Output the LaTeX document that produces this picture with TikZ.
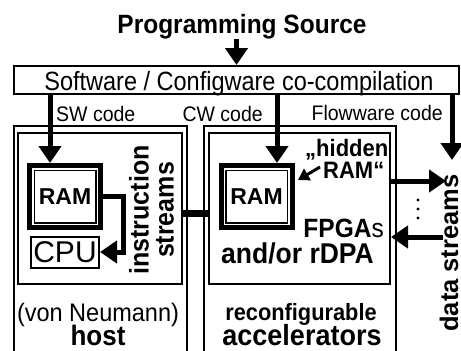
\documentclass[tikz,border=0pt]{standalone}
\usepackage{fontspec}
\setmainfont{Liberation Sans}
\usetikzlibrary{arrows.meta}
\begin{document}
\begin{tikzpicture}[x=1pt,y=-1pt,
  fs/.style={font=\fontsize{#1pt}{#1pt}\selectfont, yscale=1.08, inner sep=0pt},
  fb/.style={font=\fontsize{#1pt}{#1pt}\selectfont\bfseries, yscale=1.08, inner sep=0pt},
  frame/.style={draw, rectangle, line width=2pt, inner sep=0pt},
  rambox/.style={draw, rectangle, line width=5pt, inner sep=0pt,
    minimum width=71pt, minimum height=62pt,
    font=\fontsize{23pt}{23pt}\selectfont\bfseries},
  flow/.style={line width=5pt, -{Triangle[width=22pt,length=17pt]}},
  pointer/.style={line width=3pt, -{Triangle[width=13pt,length=11pt]}},
  wall/.style={line width=2pt}]
\useasboundingbox (0,0) rectangle (461,351);

% source and co-compilation stage
\node[fb=24.5, anchor=base] (src) at (242,33) {Programming Source};
\node[frame, minimum width=445pt, minimum height=28pt] (sw) at (236.5,80) {};
\node[fs=23.5, anchor=base, yscale=1.04] (swtext) at (239,90) {Software / Configware co-compilation};
\draw[flow] (src.south -| sw.north) -- (sw.north);

% code labels
\node[fs=19.5, anchor=base west] (swl) at (56,121) {SW code};
\node[fs=19.5, anchor=base east] (cwl) at (263,121) {CW code};
\node[fs=19.5, anchor=base east] (fwl) at (443,120) {Flowware code};

% host and accelerator enclosures (open at the bottom)
\draw[wall] (14,351) -- (14,126) -- (187,126) -- (187,351);
\draw[wall] (204,351) -- (204,126) -- (396,126) -- (396,351);
\node[frame, minimum width=164pt, minimum height=151pt] (hin) at (100,208.5) {};
\node[frame, minimum width=181pt, minimum height=151pt] (ain) at (299.5,208.5) {};

% memories
\node[rambox] (hram) at (65,196.5) {RAM};
\node[rambox] (aram) at (256.5,196.5) {RAM};
\foreach \r in {hram,aram}
  \draw[line width=1.5pt] ([shift={(7.25,7.25)}]\r.north west) rectangle ([shift={(-7.25,-7.25)}]\r.south east);

% processor
\node[frame, minimum width=68pt, minimum height=31pt,
  font=\fontsize{30pt}{30pt}\selectfont] (cpu) at (65,252) {CPU};

% code distribution
\coordinate (swin) at (50,163);
\coordinate (cwin) at (277,163);
\coordinate (fwin) at (452,160);
\draw[flow] (sw.south -| swin) -- (swin);
\draw[flow] (sw.south -| cwin) -- (cwin);
\draw[flow] (sw.south -| fwin) -- (fwin);

% instruction streams
\draw[flow] (hram.east) -- ++(20,0) |- (cpu.east);
\node[rotate=90, yscale=1.08, align=center, inner sep=0pt,
  font=\fontsize{25pt}{23pt}\selectfont\bfseries] (istr) at (151.5,210) {instruction\\streams};

% host <-> accelerator coupling
\draw[line width=7pt] (hin.east |- 0,213) -- (ain.west |- 0,213);

% accelerator labels
\node[fb=22, anchor=base west] (hid) at (305,156) {„hidden};
\node[fb=22, anchor=base west] (hidram) at (323,178) {RAM“};
\coordinate (hidtail) at (320,167);
\coordinate (hidtip) at (298,180);
\draw[pointer] (hidtail) -- (hidtip);
\node[fb=24.5, anchor=base east] (fpga) at (384,237) {FPGA{\mdseries s}};
\node[fb=26.5, anchor=base] (rdpa) at (297.5,263) {and/or rDPA};

% data streams
\coordinate (dout) at (446,181);
\coordinate (din) at (443,237);
\draw[flow] (ain.east |- dout) -- (dout);
\draw[flow] (din) -- (ain.east |- din);
\foreach \y in {200,209,218} \fill (418,\y) circle (1.6pt);
\node[rotate=90, inner sep=0pt,
  font=\fontsize{25.5pt}{25.5pt}\selectfont\bfseries] (dstr) at (449,253) {data streams};

% enclosure captions
\node[fs=23.5, anchor=base] (vn) at (98,321) {(von Neumann)};
\node[fb=26, anchor=base] (host) at (98,345) {host};
\node[fb=21.8, anchor=base] (rc) at (301,320) {reconfigurable};
\node[fb=27, anchor=base] (acc) at (302,345) {accelerators};
\end{tikzpicture}
\end{document}
